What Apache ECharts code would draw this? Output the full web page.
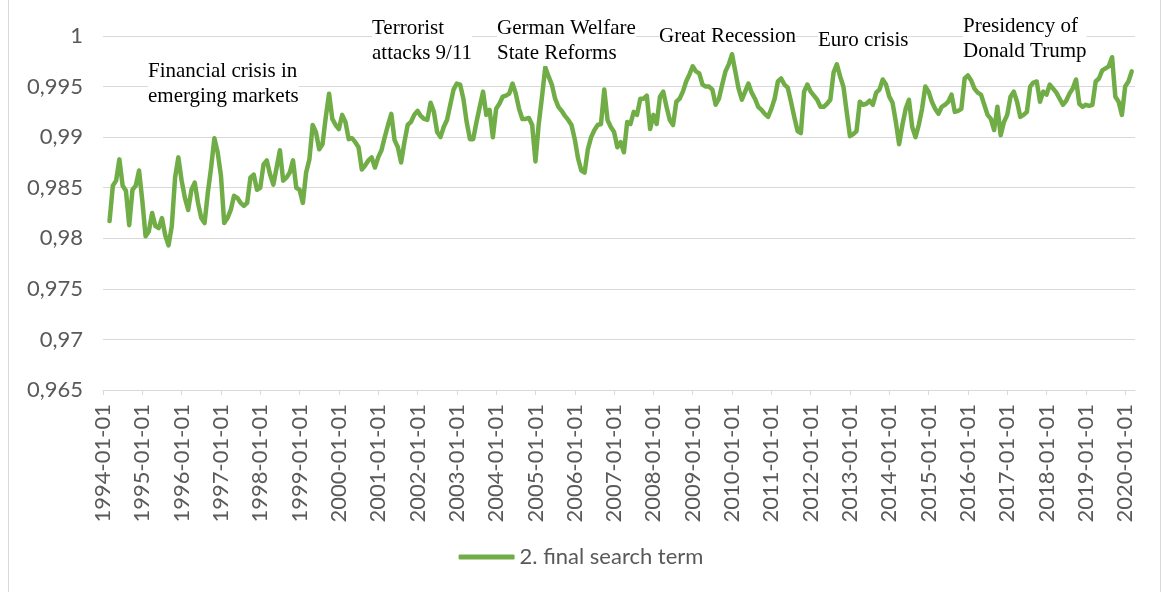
<!DOCTYPE html>
<html>
<head>
<meta charset="utf-8">
<script src="https://cdn.jsdelivr.net/npm/echarts@6/dist/echarts.min.js"></script>
<style>
  html, body { margin: 0; padding: 0; background: #fff; }
  #chart { width: 1162px; height: 592px; }
</style>
</head>
<body>
<div id="chart"></div>
<script>
// monthly values (first two months of 1994 have no value)
const vals1994to1997 = [
  null, null, 0.9817, 0.9852, 0.9857, 0.9878, 0.9852, 0.9847, 0.9813, 0.9848, 0.9852, 0.9867,
  0.9837, 0.9802, 0.9807, 0.9825, 0.9812, 0.981, 0.982, 0.9803, 0.9793, 0.9812, 0.986, 0.988,
  0.9857, 0.984, 0.9828, 0.9848, 0.9855, 0.9835, 0.982, 0.9815, 0.9845, 0.987, 0.9899, 0.9885,
  0.9862, 0.9815, 0.982, 0.9828, 0.9842, 0.984, 0.9835, 0.9832, 0.9835, 0.986, 0.9863, 0.9848
];
const vals1998to2001 = [
  0.985, 0.9873, 0.9877, 0.9863, 0.9853, 0.987, 0.9887, 0.9857, 0.986, 0.9865, 0.9877, 0.985,
  0.9848, 0.9835, 0.9865, 0.9878, 0.9912, 0.9905, 0.9888, 0.9893, 0.992, 0.9943, 0.9918, 0.9912,
  0.9908, 0.9922, 0.9915, 0.9898, 0.9899, 0.9895, 0.989, 0.9868, 0.9872, 0.9877, 0.988, 0.987,
  0.988, 0.9887, 0.99, 0.9912, 0.9923, 0.9897, 0.989, 0.9875, 0.9895, 0.9912, 0.9915, 0.9922
];
const vals2002to2005 = [
  0.9926, 0.9921, 0.9918, 0.9917, 0.9934, 0.9925, 0.9905, 0.99, 0.991, 0.9917, 0.9932, 0.9947,
  0.9953, 0.9952, 0.9938, 0.9915, 0.9898, 0.9898, 0.9915, 0.993, 0.9945, 0.9922, 0.9927, 0.99,
  0.9928, 0.9933, 0.994, 0.9941, 0.9943, 0.9953, 0.9943, 0.9928, 0.9918, 0.9918, 0.9919, 0.9912,
  0.9876, 0.9913, 0.994, 0.9969, 0.996, 0.9952, 0.9938, 0.993, 0.9926, 0.9921, 0.9917, 0.9912
];
const vals2006to2009 = [
  0.9898, 0.9879, 0.9867, 0.9865, 0.9888, 0.99, 0.9907, 0.9912, 0.9913, 0.9947, 0.9917, 0.991,
  0.9905, 0.989, 0.9895, 0.9885, 0.9915, 0.9913, 0.9925, 0.9922, 0.9938, 0.9938, 0.9941, 0.9908,
  0.9922, 0.9913, 0.994, 0.9945, 0.993, 0.9917, 0.9912, 0.9935, 0.9938, 0.9945, 0.9955, 0.9962,
  0.997, 0.9965, 0.9963, 0.9952, 0.995, 0.995, 0.9947, 0.9932, 0.9938, 0.9952, 0.9965, 0.9972
];
const vals2010to2013 = [
  0.9982, 0.9965, 0.9948, 0.9937, 0.9945, 0.9953, 0.9944, 0.9938, 0.993, 0.9927, 0.9923, 0.992,
  0.9928, 0.9938, 0.9955, 0.9958, 0.9952, 0.9949, 0.9935, 0.992, 0.9906, 0.9904, 0.9945, 0.9952,
  0.9945, 0.9941, 0.9937, 0.993, 0.993, 0.9933, 0.9937, 0.9964, 0.9972, 0.996, 0.995, 0.9925,
  0.9901, 0.9903, 0.9906, 0.9935, 0.9932, 0.9933, 0.9936, 0.9932, 0.9944, 0.9947, 0.9957, 0.9952
];
const vals2014to2017 = [
  0.994, 0.9934, 0.9915, 0.9893, 0.9912, 0.9928, 0.9937, 0.991, 0.99, 0.9912, 0.9928, 0.995,
  0.9945, 0.9935, 0.9928, 0.9923, 0.993, 0.9932, 0.9935, 0.9942, 0.9925, 0.9926, 0.9928, 0.9958,
  0.9961, 0.9956, 0.9948, 0.9944, 0.9942, 0.9932, 0.9922, 0.9918, 0.9907, 0.993, 0.9902, 0.9915,
  0.9922, 0.994, 0.9945, 0.9935, 0.992, 0.9922, 0.9925, 0.995, 0.9954, 0.9955, 0.9935, 0.9945
];
const vals2018to2020 = [
  0.9942, 0.9952, 0.9948, 0.9944, 0.9938, 0.9932, 0.9936, 0.9943, 0.9948, 0.9957, 0.9933, 0.993,
  0.9932, 0.9931, 0.9932, 0.9955, 0.9958, 0.9966, 0.9968, 0.997, 0.9979, 0.994, 0.9935, 0.9922,
  0.995, 0.9955, 0.9965, null
];

const seriesName = '2. final search term';
const firstYear = 1994;
const lastYear = 2020;
const monthsInLastYear = 4;

const annotations = [
  { text: 'Financial crisis in\nemerging markets', x: 148, y: 59 },
  { text: 'Terrorist\nattacks 9/11', x: 372, y: 16 },
  { text: 'German Welfare\nState Reforms', x: 497, y: 16 },
  { text: 'Great Recession', x: 659, y: 24 },
  { text: 'Euro crisis', x: 818, y: 28 },
  { text: 'Presidency of\nDonald Trump', x: 963, y: 14 }
];

const values = [].concat(vals1994to1997, vals1998to2001, vals2002to2005,
  vals2006to2009, vals2010to2013, vals2014to2017, vals2018to2020);

const dates = [];
for (let y = firstYear; y <= lastYear; y++) {
  const n = y === lastYear ? monthsInLastYear : 12;
  for (let m = 1; m <= n; m++) {
    dates.push(y + '-' + String(m).padStart(2, '0') + '-01');
  }
}

const isYearStart = (i, d) => d.slice(5) === '01-01';
const axisFont = 'Lato, "Open Sans", sans-serif';
const gridGray = '#d9d9d9';

const chart = echarts.init(document.getElementById('chart'));
const option = {
  animation: false,
  grid: { left: 103, right: 27, top: 36, bottom: 202 },
  xAxis: {
    type: 'category',
    data: dates,
    boundaryGap: false,
    axisLine: { lineStyle: { color: gridGray, width: 1 } },
    axisTick: { show: true, length: 5, interval: isYearStart, lineStyle: { color: gridGray } },
    axisLabel: {
      interval: isYearStart,
      rotate: 90,
      margin: 14,
      color: '#595959',
      fontFamily: axisFont,
      fontSize: 22
    },
    splitLine: { show: false }
  },
  yAxis: {
    type: 'value',
    min: 0.965,
    max: 1,
    interval: 0.005,
    axisLine: { show: false },
    axisTick: { show: false },
    axisLabel: {
      margin: 20,
      color: '#595959',
      fontFamily: axisFont,
      fontSize: 22,
      formatter: v => String(+v.toFixed(3)).replace('.', ',')
    },
    splitLine: { lineStyle: { color: gridGray, width: 1 } }
  },
  legend: {
    data: [seriesName],
    top: 541,
    left: 'center',
    icon: 'roundRect',
    itemWidth: 56,
    itemHeight: 5,
    textStyle: { color: '#595959', fontFamily: axisFont, fontSize: 22 }
  },
  graphic: [
    {
      type: 'rect',
      silent: true,
      shape: { x: 8.5, y: -2, width: 1152, height: 596 },
      style: { fill: 'none', stroke: gridGray, lineWidth: 1 }
    }
  ].concat(annotations.map(a => ({
    type: 'text',
    left: a.x,
    top: a.y,
    silent: true,
    z: 10,
    style: {
      text: a.text,
      fill: '#000',
      font: '21px "Liberation Serif", "Times New Roman", serif',
      lineHeight: 25,
      backgroundColor: '#fff'
    }
  }))),
  series: [
    {
      name: seriesName,
      type: 'line',
      data: values,
      showSymbol: false,
      connectNulls: false,
      lineStyle: { color: '#70AD47', width: 4.5, cap: 'round', join: 'round' },
      itemStyle: { color: '#70AD47' }
    }
  ]
};
option && chart.setOption(option);
</script>
</body>
</html>
